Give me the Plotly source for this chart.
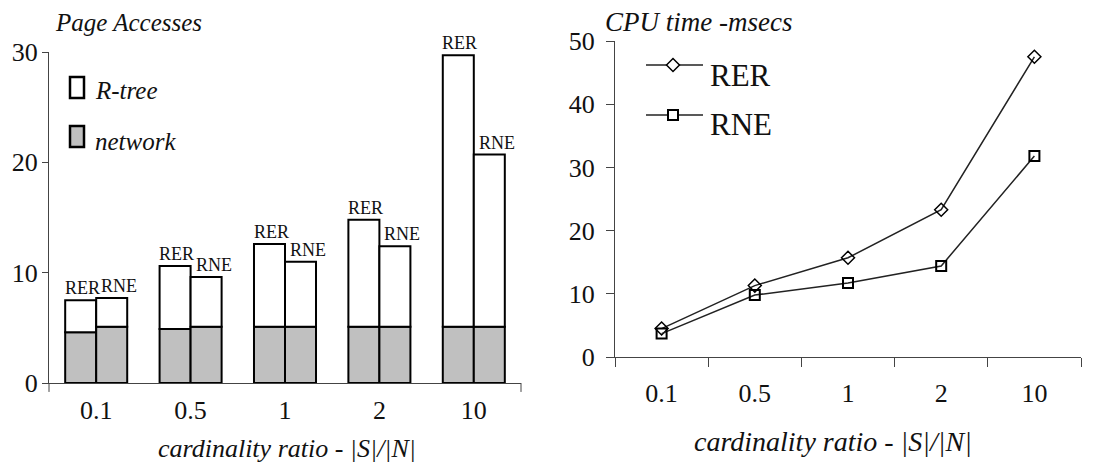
import plotly.graph_objects as go

W, H = 1113, 464

# ---------------- data ----------------
categories = ["0.1", "0.5", "1", "2", "10"]
rer_network = [4.6, 4.9, 5.1, 5.1, 5.1]
rer_rtree = [2.9, 5.7, 7.5, 9.7, 24.6]
rne_network = [5.1, 5.1, 5.1, 5.1, 5.1]
rne_rtree = [2.6, 4.5, 5.9, 7.3, 15.6]
cpu_rer = [4.5, 11.3, 15.7, 23.3, 47.5]
cpu_rne = [3.7, 9.8, 11.7, 14.4, 31.8]

FONT = "Liberation Serif, Times New Roman, DejaVu Serif, serif"
INK = "#111111"
GRAY = "#c0c0c0"
AXIS = "#444444"


def px(x):
    return x / W


def py(y):
    return 1 - y / H


fig = go.Figure()

bar_line = dict(color="black", width=2)
fig.add_trace(go.Bar(x=categories, y=rer_network, offsetgroup="RER", name="network",
                     marker=dict(color=GRAY, line=bar_line), xaxis="x", yaxis="y", showlegend=False))
fig.add_trace(go.Bar(x=categories, y=rer_rtree, base=rer_network, offsetgroup="RER", name="R-tree",
                     marker=dict(color="white", line=bar_line), xaxis="x", yaxis="y", showlegend=False))
fig.add_trace(go.Bar(x=categories, y=rne_network, offsetgroup="RNE", name="network",
                     marker=dict(color=GRAY, line=bar_line), xaxis="x", yaxis="y", showlegend=False))
fig.add_trace(go.Bar(x=categories, y=rne_rtree, base=rne_network, offsetgroup="RNE", name="R-tree",
                     marker=dict(color="white", line=bar_line), xaxis="x", yaxis="y", showlegend=False))

fig.add_trace(go.Scatter(x=categories, y=cpu_rer, mode="lines+markers", name="RER",
                         line=dict(color="#222222", width=1.5),
                         marker=dict(symbol="diamond-open", size=10, color="black", line=dict(width=1.5)),
                         xaxis="x2", yaxis="y2", showlegend=False))
fig.add_trace(go.Scatter(x=categories, y=cpu_rne, mode="lines+markers", name="RNE",
                         line=dict(color="#222222", width=1.5),
                         marker=dict(symbol="square-open", size=10, color="black", line=dict(width=2)),
                         xaxis="x2", yaxis="y2", showlegend=False))

annotations = []
# bar labels (category index positions on the category axis)
rer_total = [a + b for a, b in zip(rer_network, rer_rtree)]
rne_total = [a + b for a, b in zip(rne_network, rne_rtree)]
for i, t in enumerate(rer_total):
    annotations.append(dict(x=i, y=t, xref="x", yref="y", text="RER", showarrow=False,
                            yanchor="bottom", xshift=-14, yshift=0,
                            font=dict(family=FONT, size=18, color=INK)))
for i, t in enumerate(rne_total):
    annotations.append(dict(x=i, y=t, xref="x", yref="y", text="RNE", showarrow=False,
                            yanchor="bottom", xshift=23, yshift=0,
                            font=dict(family=FONT, size=18, color=INK)))

# titles
annotations += [
    dict(x=px(53), y=py(22), xref="paper", yref="paper", xanchor="left", yanchor="middle",
         text="<i>Page Accesses</i>", showarrow=False, font=dict(family=FONT, size=25, color=INK)),
    dict(x=px(603), y=py(22), xref="paper", yref="paper", xanchor="left", yanchor="middle",
         text="<i>CPU time -msecs</i>", showarrow=False, font=dict(family=FONT, size=27, color=INK)),
    dict(x=px(287), y=py(448), xref="paper", yref="paper", xanchor="center", yanchor="middle",
         text="<i>cardinality ratio - |S|/|N|</i>", showarrow=False, font=dict(family=FONT, size=26, color=INK)),
    dict(x=px(833), y=py(441), xref="paper", yref="paper", xanchor="center", yanchor="middle",
         text="<i>cardinality ratio - |S|/|N|</i>", showarrow=False, font=dict(family=FONT, size=28, color=INK)),
    # left legend text
    dict(x=px(93), y=py(91), xref="paper", yref="paper", xanchor="left", yanchor="middle",
         text="<i>R-tree</i>", showarrow=False, font=dict(family=FONT, size=25, color=INK)),
    dict(x=px(93), y=py(141), xref="paper", yref="paper", xanchor="left", yanchor="middle",
         text="<i>network</i>", showarrow=False, font=dict(family=FONT, size=25, color=INK)),
    # right legend text
    dict(x=px(708), y=py(75), xref="paper", yref="paper", xanchor="left", yanchor="middle",
         text="RER", showarrow=False, font=dict(family=FONT, size=31, color=INK)),
    dict(x=px(708), y=py(125), xref="paper", yref="paper", xanchor="left", yanchor="middle",
         text="RNE", showarrow=False, font=dict(family=FONT, size=31, color=INK)),
]

shapes = [
    # left legend boxes
    dict(type="rect", xref="paper", yref="paper", x0=px(70), x1=px(84), y0=py(98), y1=py(77),
         fillcolor="white", line=dict(color="black", width=2.5)),
    dict(type="rect", xref="paper", yref="paper", x0=px(70), x1=px(84), y0=py(147), y1=py(126),
         fillcolor=GRAY, line=dict(color="black", width=2.5)),
    # right legend lines
    dict(type="line", xref="paper", yref="paper", x0=px(646), x1=px(703), y0=py(65), y1=py(65),
         line=dict(color="#222222", width=1.5)),
    dict(type="line", xref="paper", yref="paper", x0=px(646), x1=px(703), y0=py(115), y1=py(115),
         line=dict(color="#222222", width=1.5)),
    # right legend markers
    dict(type="path", xref="paper", yref="paper", xsizemode="pixel", ysizemode="pixel",
         xanchor=px(673), yanchor=py(65), path="M -6.5 0 L 0 6.5 L 6.5 0 L 0 -6.5 Z",
         fillcolor="white", line=dict(color="black", width=1.5)),
    dict(type="path", xref="paper", yref="paper", xsizemode="pixel", ysizemode="pixel",
         xanchor=px(673), yanchor=py(115), path="M -5 -5 L 5 -5 L 5 5 L -5 5 Z",
         fillcolor="white", line=dict(color="black", width=2)),
    # left axis end ticks
    dict(type="line", xref="x domain", yref="y domain", x0=0, x1=0, y0=0, y1=-0.027,
         line=dict(color=AXIS, width=1)),
    dict(type="line", xref="x domain", yref="y domain", x0=1, x1=1, y0=0, y1=-0.027,
         line=dict(color=AXIS, width=1)),
]

tickfont = dict(family=FONT, size=26, color=INK)

fig.update_layout(
    width=W, height=H,
    autosize=False,
    margin=dict(l=0, r=0, t=0, b=0, pad=0, autoexpand=False),
    paper_bgcolor="white", plot_bgcolor="white",
    font=dict(family=FONT, color=INK),
    barmode="group", bargap=0.343, bargroupgap=0,
    showlegend=False,
    xaxis=dict(domain=[px(49), px(521)], anchor="y", type="category", range=[-0.5, 4.5],
               showline=True, linecolor=AXIS, linewidth=1, ticks="", showgrid=False,
               tickfont=tickfont, ticklabelstandoff=4, automargin=False),
    yaxis=dict(domain=[py(383), py(52)], anchor="x", range=[0, 30], tickvals=[0, 10, 20, 30],
               showline=True, linecolor=AXIS, linewidth=1, ticks="outside", ticklen=6, tickcolor=AXIS,
               showgrid=False, zeroline=False, tickfont=tickfont, ticklabelstandoff=-1, automargin=False),
    xaxis2=dict(domain=[px(615), px(1081)], anchor="y2", type="category", range=[-0.5, 4.5],
                showline=True, linecolor=AXIS, linewidth=1, ticks="outside", ticklen=9, tickcolor=AXIS,
                tickson="boundaries", showgrid=False, tickfont=tickfont, ticklabelstandoff=13,
                automargin=False),
    yaxis2=dict(domain=[py(357), py(41)], anchor="x2", range=[0, 50], dtick=10,
                showline=True, linecolor=AXIS, linewidth=1, ticks="outside", ticklen=8, tickcolor=AXIS,
                showgrid=False, zeroline=False, tickfont=tickfont, ticklabelstandoff=6, automargin=False),
    annotations=annotations,
    shapes=shapes,
)

fig.write_html("out.html")
